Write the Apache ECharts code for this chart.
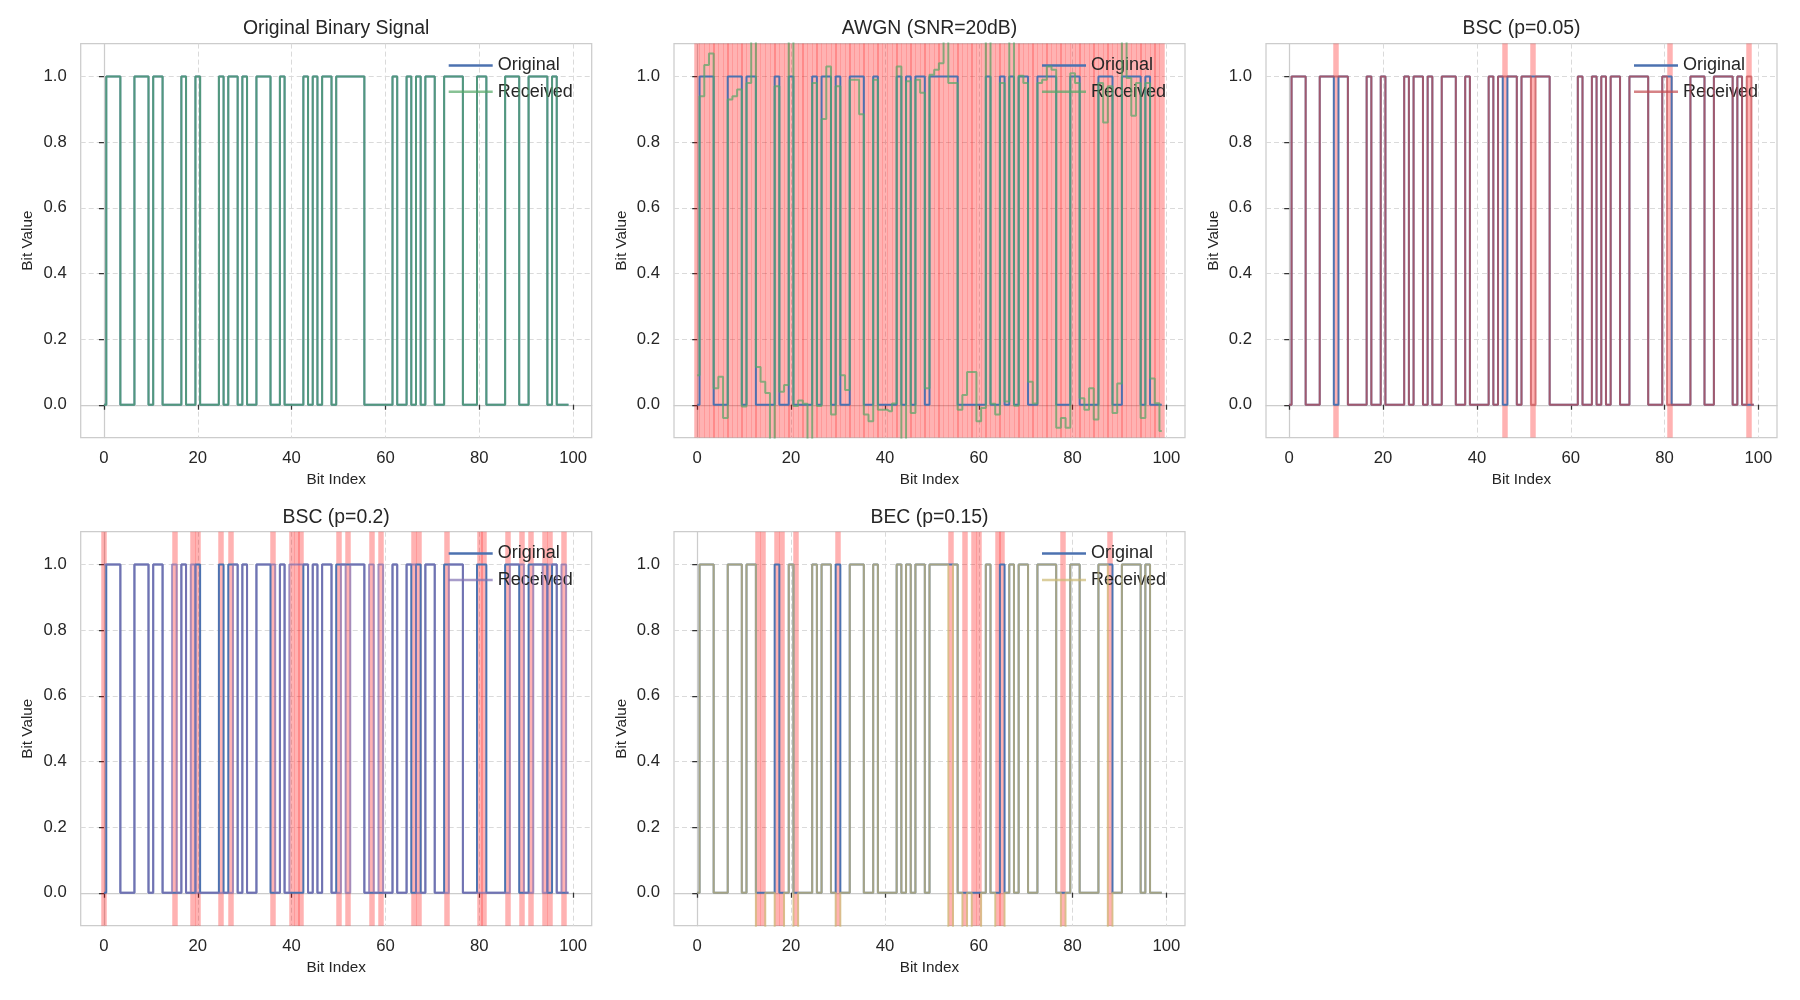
<!DOCTYPE html>
<html>
<head>
<meta charset="utf-8">
<script src="https://cdn.jsdelivr.net/npm/echarts@6/dist/echarts.min.js"></script>
<style>
html, body { margin: 0; padding: 0; background: #fff; }
#main { width: 1800px; height: 1000px; }
</style>
</head>
<body>
<div id="main"></div>
<script>
// transmitted bits (100 samples)
var originalBits = [
    0,1,1,1,0,0,0,1,1,1, 0,1,1,0,0,0,0,1,0,0,
    1,0,0,0,0,1,0,1,1,0, 1,0,0,1,1,1,0,0,1,0,
    0,0,0,1,0,1,0,1,1,0, 1,1,1,1,1,1,0,0,0,0,
    0,0,1,0,0,1,0,1,0,1, 1,0,0,1,1,1,1,0,0,0,
    1,1,0,0,0,0,1,1,1,0, 0,1,1,1,1,0,1,0,0,0
];

// AWGN received samples (SNR=20dB)
var awgnReceived = [
    0.09, 0.94, 1.035, 1.07, 0.05, 0.085, -0.04, 0.93, 0.94, 0.96,
    -0.005, 0.98, 1.15, 0.115, 0.07, 0.036, -0.13, 0.97, 0.04, 0.06,
    1.13, -0.004, 0.013, 0.003, -0.12, 0.98, -0.004, 0.87, 1.03, -0.03,
    0.97, 0.09, 0.045, 0.99, 0.99, 0.885, -0.03, -0.05, 0.99, -0.015,
    -0.015, -0.02, 0.004, 1.03, -0.12, 0.985, -0.025, 0.99, 0.95, 0.05,
    1.005, 1.02, 1.04, 1.13, 0.98, 0.98, -0.015, 0.03, 0.1, 0.1,
    -0.05, -0.01, 1.13, 0.003, -0.03, 0.98, 0.01, 1.12, -0.003, 1.002,
    0.98, 0.07, 0.004, 0.98, 0.99, 1.03, 1.02, -0.07, -0.04, -0.07,
    1.01, 0.98, 0.02, -0.015, 0.05, -0.045, 0.98, 0.86, 0.97, -0.025,
    0.065, 1.12, 0.995, 0.88, 0.98, -0.04, 0.98, 0.08, 0.005, -0.08
];

// flipped / erased positions
var bscLowErrors = [10, 46, 52, 81, 98];
var bscHighErrors = [0, 15, 19, 20, 25, 27, 36, 40, 41, 42, 50, 52, 57, 59, 66, 67, 73, 80, 81, 86, 89, 91, 94, 95, 98];
var becErasures = [13, 14, 17, 18, 21, 30, 54, 57, 59, 60, 64, 65, 78, 88];

var xTicks = [0, 20, 40, 60, 80, 100];
var yTicks = [0, 0.2, 0.4, 0.6, 0.8, 1.0];

var panelTitles = ['Original Binary Signal', 'AWGN (SNR=20dB)', 'BSC (p=0.05)', 'BSC (p=0.2)', 'BEC (p=0.15)'];
var receivedColors = ['#55a868', '#55a868', '#c44e52', '#8172b3', '#ccb974'];

function flip(bits, errs) {
    return bits.map(function (b, i) { return errs.indexOf(i) >= 0 ? 1 - b : b; });
}
function erase(bits, errs) {
    return bits.map(function (b, i) { return errs.indexOf(i) >= 0 ? -1 : b; });
}
function diffIndex(a, b) {
    var out = [];
    for (var i = 0; i < a.length; i++) if (a[i] !== b[i]) out.push(i);
    return out;
}

var receivedList = [
    originalBits,
    awgnReceived,
    flip(originalBits, bscLowErrors),
    flip(originalBits, bscHighErrors),
    erase(originalBits, becErasures)
];
var markList = [
    [],
    diffIndex(originalBits, awgnReceived),
    bscLowErrors,
    bscHighErrors,
    becErasures
];

var cells = [[80.7, 43.6], [674, 43.6], [1266, 43.6], [80.7, 531.7], [674, 531.7]];
var W = 511, H = 394;
var FONT = 'Liberation Sans, Arial, sans-serif';
var TXT = '#262626';

var grids = [], xAxes = [], yAxes = [], series = [], legends = [], titles = [];

cells.forEach(function (c, i) {
    grids.push({
        left: c[0], top: c[1], width: W, height: H,
        show: true, borderColor: '#cccccc', borderWidth: 1.25, backgroundColor: '#fff'
    });
    xAxes.push({
        gridIndex: i, type: 'value', min: -4.95, max: 103.95, splitNumber: 5,
        name: 'Bit Index', nameLocation: 'middle', nameGap: 35,
        nameTextStyle: { fontSize: 15.3, color: TXT, fontFamily: FONT },
        axisLine: { show: true, lineStyle: { color: '#cccccc', width: 1.25 } },
        axisTick: { show: true, length: 5, customValues: xTicks, lineStyle: { color: '#333', width: 1.25 } },
        axisLabel: { customValues: xTicks, margin: 12, fontSize: 16.7, color: TXT, fontFamily: FONT },
        splitLine: { show: true, lineStyle: { color: '#dadada', width: 1, type: [5, 3] } }
    });
    yAxes.push({
        gridIndex: i, type: 'value', min: -0.1, max: 1.1, splitNumber: 5,
        name: 'Bit Value', nameLocation: 'middle', nameGap: 45, nameRotate: 90,
        nameTextStyle: { fontSize: 15.3, color: TXT, fontFamily: FONT },
        axisLine: { show: true, lineStyle: { color: '#cccccc', width: 1.25 } },
        axisTick: { show: true, length: 5, customValues: yTicks, lineStyle: { color: '#333', width: 1.25 } },
        axisLabel: {
            customValues: yTicks, margin: 14, fontSize: 16.7, color: TXT, fontFamily: FONT,
            formatter: function (v) { return Number(v).toFixed(1); }
        },
        splitLine: { show: true, lineStyle: { color: '#dadada', width: 1, type: [5, 3] } }
    });

    var col = receivedColors[i];
    series.push({
        type: 'line', name: 'Original#' + i, xAxisIndex: i, yAxisIndex: i,
        step: 'middle', symbol: 'none', animation: false, z: 3,
        data: originalBits.map(function (v, k) { return [k, v]; }),
        lineStyle: { color: '#4c72b0', width: 2 },
        itemStyle: { color: '#4c72b0' }
    });
    series.push({
        type: 'line', name: 'Received#' + i, xAxisIndex: i, yAxisIndex: i,
        step: 'middle', symbol: 'none', animation: false, z: 4,
        data: receivedList[i].map(function (v, k) { return [k, v]; }),
        lineStyle: { color: col, width: 2, opacity: 0.7 },
        itemStyle: { color: col, opacity: 0.7 },
        markLine: {
            silent: true, animation: false, symbol: ['none', 'none'], z: 1,
            label: { show: false },
            lineStyle: { color: '#ff0000', opacity: 0.3, width: 5.5, type: 'solid' },
            emphasis: { disabled: true },
            data: markList[i].map(function (k) { return { xAxis: k }; })
        }
    });

    legends.push({
        orient: 'vertical', left: c[0] + 368, top: c[1] + 11.8,
        padding: 0, itemGap: 6.4, icon: 'rect', itemWidth: 44, itemHeight: 2.5,
        selectedMode: false,
        data: [
            { name: 'Original#' + i, itemStyle: { color: '#4c72b0' } },
            { name: 'Received#' + i, itemStyle: { color: col, opacity: 0.7 } }
        ],
        formatter: function (n) { return n.split('#')[0]; },
        textStyle: { fontSize: 18, lineHeight: 20, color: TXT, fontFamily: FONT }
    });

    titles.push({
        type: 'text', x: c[0] + W / 2, y: c[1] - 14.5,
        style: {
            text: panelTitles[i], align: 'center', verticalAlign: 'middle',
            fontSize: 19.4, fontFamily: FONT, fill: TXT
        }
    });
});

var chart = echarts.init(document.getElementById('main'));
chart.setOption({
    backgroundColor: '#ffffff',
    animation: false,
    grid: grids,
    xAxis: xAxes,
    yAxis: yAxes,
    legend: legends,
    series: series,
    graphic: titles
});
</script>
</body>
</html>
